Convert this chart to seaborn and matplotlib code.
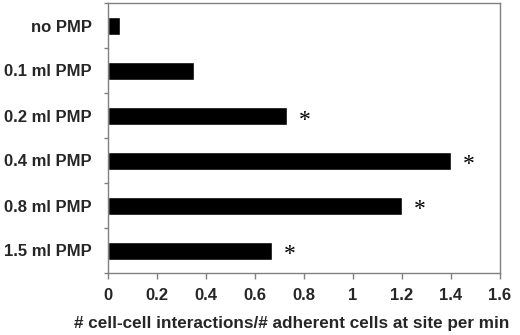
import matplotlib
matplotlib.use("Agg")
import matplotlib.pyplot as plt
import seaborn as sns
import pandas as pd

categories = ["no PMP", "0.1 ml PMP", "0.2 ml PMP", "0.4 ml PMP", "0.8 ml PMP", "1.5 ml PMP"]
values = [0.05, 0.35, 0.73, 1.40, 1.20, 0.67]
significant = [False, False, True, True, True, True]
x_ticks = [0, 0.2, 0.4, 0.6, 0.8, 1, 1.2, 1.4, 1.6]
x_tick_labels = ["0", "0.2", "0.4", "0.6", "0.8", "1", "1.2", "1.4", "1.6"]
x_label = "# cell-cell interactions/# adherent cells at site per min"

sns.set_style("white")
plt.rcParams["font.family"] = ["Liberation Sans", "DejaVu Sans"]

df = pd.DataFrame({"cat": categories, "val": values})

fig = plt.figure(figsize=(5.2, 3.35), dpi=100)
ax = fig.add_axes([108/520, 1-273/335, 392/520, 270/335])
sns.barplot(data=df, x="val", y="cat", orient="h", color="black",
            width=0.4, saturation=1, ax=ax)

for i, (v, s) in enumerate(zip(values, significant)):
    if s:
        ax.text(v + 0.073, i + 0.1, "*", ha="center", va="center",
                fontsize=17, family="Liberation Serif", color="black")

ax.set_xlim(0, 1.6)
ax.set_ylim(5.5, -0.5)
ax.set_xticks(x_ticks)
ax.set_xticklabels(x_tick_labels, fontsize=12, fontweight="bold")
ax.set_yticks([i for i in range(len(categories))])
ax.set_yticklabels(categories, fontsize=12, fontweight="bold")
ax.set_yticks([i - 0.5 for i in range(len(categories) + 1)], minor=True)
ax.tick_params(axis="y", which="major", length=0, pad=11.5)
ax.tick_params(axis="y", which="minor", length=3, width=1, color="#808080", direction="out", left=True)
ax.tick_params(axis="x", which="major", length=4, width=1, color="#808080", direction="out", bottom=True, pad=7)
ax.set_xlabel(x_label, fontsize=12.3, fontweight="bold")
ax.xaxis.set_label_coords(0.468, -0.16)
ax.set_ylabel("")
for sp in ax.spines.values():
    sp.set_visible(True)
    sp.set_color("#808080")
    sp.set_linewidth(1)

fig.savefig("out.png", dpi=100)
